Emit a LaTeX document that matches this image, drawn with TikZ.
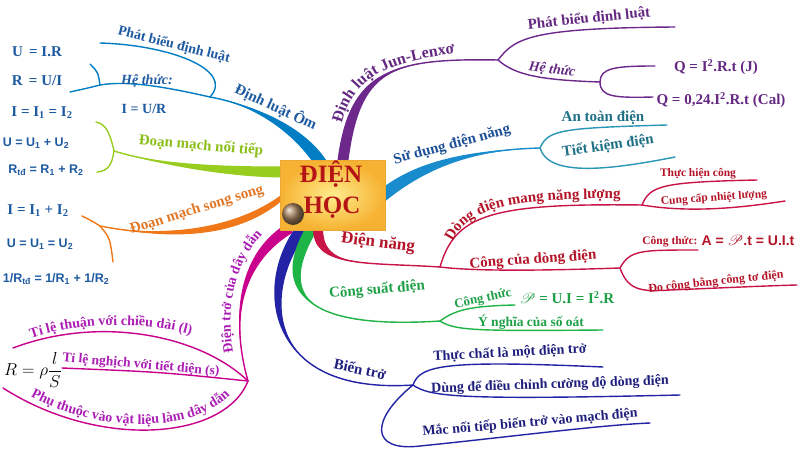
\documentclass[tikz,border=0pt]{standalone}
\usepackage{fontspec}
\setmainfont{Liberation Serif}
\setsansfont{Liberation Sans}
\usepackage{amsmath,mathrsfs}
\usetikzlibrary{calc,decorations.text}

\definecolor{ohm}{RGB}{0,125,195}
\definecolor{ohmtxt}{RGB}{30,90,160}
\definecolor{nt}{RGB}{150,205,30}
\definecolor{nttxt}{RGB}{140,190,25}
\definecolor{ss}{RGB}{240,120,25}
\definecolor{sstxt}{RGB}{225,120,40}
\definecolor{dd}{RGB}{200,0,140}
\definecolor{ddtxt}{RGB}{170,30,180}
\definecolor{bt}{RGB}{35,35,165}
\definecolor{bttxt}{RGB}{30,30,125}
\definecolor{cs}{RGB}{30,180,70}
\definecolor{cstxt}{RGB}{30,160,70}
\definecolor{dn}{RGB}{200,20,70}
\definecolor{dntxt}{RGB}{180,20,40}
\definecolor{sd}{RGB}{25,140,205}
\definecolor{sdsub}{RGB}{40,150,180}
\definecolor{sdtxt}{RGB}{30,80,150}
\definecolor{jl}{RGB}{110,40,140}
\definecolor{jltxt}{RGB}{100,40,130}
\definecolor{core}{RGB}{180,20,20}
\definecolor{boxin}{RGB}{255,236,140}
\definecolor{boxout}{RGB}{246,178,50}

\newcommand{\fmain}{\fontsize{15}{17}\selectfont\bfseries}
\newcommand{\fsub}{\fontsize{14}{16}\selectfont\bfseries}
\newcommand{\fsmall}{\fontsize{11.5}{13}\selectfont\bfseries}
% tapered branch: colour, start, control 1, control 2, end, half width
\newcommand{\taper}[6]{%
  \fill[#1] ($(#2)+#6$) .. controls ($(#3)+#6$) and (#4) .. (#5)
    .. controls (#4) and ($(#3)-#6$) .. ($(#2)-#6$) -- cycle;
  \draw[#1, line width=1.4pt] (#2) .. controls (#3) and (#4) .. (#5);}

\begin{document}
\begin{tikzpicture}[x=1pt,y=-1pt,
    thin line/.style={line width=1.4pt, line cap=round},
    lbl/.style={font=\fmain, inner sep=1pt},
    sub/.style={font=\fsub, inner sep=1pt},
    small/.style={font=\fsmall, inner sep=1pt},
    form/.style={font=\fontsize{15}{17}\selectfont\bfseries, text=ohmtxt, inner sep=1pt},
    sform/.style={font=\fontsize{12.5}{14}\selectfont\sffamily\bfseries, text=ohmtxt, inner sep=1pt},
    qf/.style={font=\fontsize{15}{17}\selectfont\bfseries, text=jltxt, inner sep=1pt},
    curved/.style={decorate, decoration={text along path, text align=center, text={#1}}}]

\useasboundingbox[fill=white] (0,0) rectangle (800,455);

% fork points
\coordinate (A) at (210,97);
\coordinate (B) at (100,85);
\coordinate (C) at (114,151);
\coordinate (D) at (100,226);
\coordinate (E) at (248,381);
\coordinate (F) at (413,385);
\coordinate (G) at (440,321);
\coordinate (H) at (440,267);
\coordinate (H1) at (642,205);
\coordinate (H2) at (620,268);
\coordinate (I) at (540,148);
\coordinate (J) at (498,60);
\coordinate (K) at (600,82);

% Dinh luat Om
\taper{ohm}{322,165}{300,130}{255,105}{A}{(5,-3.5)}
\draw[thin line, ohm] (A) .. controls (235,70) and (170,45) .. (100,43);
\draw[thin line, ohm] (A) .. controls (170,88) and (130,80) .. (B);
\draw[thin line, ohm] (B) .. controls (98,72) .. (90,64);
\draw[thin line, ohm] (B) .. controls (88,88) .. (70,92);
\node[lbl, ohmtxt, rotate=-25] (ohmlbl) at (276,107) {Định luật Ôm};
\node[sub, ohmtxt, rotate=-14] (ohmpb) at (174,45) {Phát biểu định luật};
\node[sub, ohmtxt, font=\fsub\itshape] (ohmht) at (147,81) {Hệ thức:};
\node[sub, ohmtxt] (ohmf) at (144,109) {I = U/R};
\node[form] (ohm1) at (37,52) {U \,= I.R};
\node[form] (ohm2) at (37,81) {R \,= U/I};

% Doan mach noi tiep
\taper{nt}{284,172}{230,172}{160,165}{C}{(0,5.5)}
\draw[thin line, nt] (C) .. controls (110,133) and (106,124) .. (96,122);
\draw[thin line, nt] (C) .. controls (112,165) and (108,171) .. (97,172);
\node[lbl, nttxt, rotate=-5] (ntlbl) at (201,146) {Đoạn mạch nối tiếp};
\node[form] (nt1) at (42,113) {I = I\textsubscript{1} = I\textsubscript{2}};
\node[sform] (nt2) at (36,143) {U = U\textsubscript{1} + U\textsubscript{2}};
\node[sform] (nt3) at (46,170) {R\textsubscript{tđ} = R\textsubscript{1} + R\textsubscript{2}};

% Doan mach song song
\taper{ss}{284,196}{230,240}{150,236}{D}{(3,-5.5)}
\draw[thin line, ss] (D) .. controls (92,221) .. (82,216);
\draw[thin line, ss] (D) .. controls (110,238) .. (113,262);
\node[lbl, sstxt, rotate=17] (sslbl) at (197,210) {Đoạn mạch song song};
\node[form] (ss1) at (38,211) {I = I\textsubscript{1} + I\textsubscript{2}};
\node[sform] (ss2) at (40,244) {U = U\textsubscript{1} = U\textsubscript{2}};
\node[sform] (ss3) at (56,279) {1/R\textsubscript{tđ} = 1/R\textsubscript{1} + 1/R\textsubscript{2}};

% Dien tro cua day dan
\taper{dd}{290,228}{245,255}{228,310}{E}{(3,4.5)}
\path[curved={|\fontsize{14}{16}\selectfont\bfseries\color{ddtxt}|Điện trở của dây dẫn}]
  (236,365) .. controls (222,310) and (235,255) .. (272,226);
\draw[thin line, dd] (E) .. controls (200,335) and (100,315) .. (13,348);
\draw[thin line, dd] (E) .. controls (160,372) .. (62,368);
\draw[thin line, dd] (E) .. controls (225,440) and (100,450) .. (3,388);
\path[curved={|\fsub\color{ddtxt}|Tỉ lệ thuận với chiều dài (l)}]
  (22,342) .. controls (70,322) and (150,319) .. (200,338);
\path[curved={|\fsub\color{ddtxt}|Phụ thuộc vào vật liệu làm dây dẫn}]
  (16,388) .. controls (100,442) and (215,432) .. (240,382);
\node[font=\fontsize{13.5}{15}\selectfont\bfseries, inner sep=1pt, ddtxt, rotate=-5] (dd2) at (141,365) {Tỉ lệ nghịch với tiết diện (s)};
\node[font=\fontsize{19}{21}\selectfont, inner sep=0pt] (ddf) at (33,370) {$R=\rho\dfrac{l}{S}$};

% Bien tro
\taper{bt}{303,228}{258,285}{262,395}{F}{(5,3.5)}
\draw[thin line, bt] (F) .. controls (420,365) and (445,360) .. (603,367);
\draw[thin line, bt] (F) .. controls (430,397) and (460,400) .. (680,395);
\draw[thin line, bt] (F) .. controls (370,420) and (370,452) .. (420,446)
  .. controls (500,438) and (600,425) .. (650,423);
\node[lbl, bttxt, rotate=-12] (btlbl) at (360,369) {Biến trở};
\node[sub, bttxt, rotate=3] (bt1) at (510,353) {Thực chất là một điện trở};
\node[sub, bttxt, rotate=2] (bt2) at (550,385) {Dùng để điều chỉnh cường độ dòng điện};
\node[sub, bttxt, rotate=5] (bt3) at (530,423) {Mắc nối tiếp biến trở vào mạch điện};

% Cong suat dien
\taper{cs}{312,228}{275,290}{300,330}{G}{(5,2.5)}
\draw[thin line, cs] (G) .. controls (455,310) and (470,306) .. (515,305);
\draw[thin line, cs] (G) .. controls (455,331) and (480,331) .. (603,330);
\node[lbl, cstxt, rotate=5] (cslbl) at (377,290) {Công suất điện};
\node[font=\fontsize{13}{15}\selectfont\bfseries, inner sep=1pt, cstxt, rotate=12] (cs1) at (483,299) {Công thức};
\node[form, cstxt] (csf) at (567,298) {$\mathscr{P}$ = U.I = I\textsuperscript{2}.R};
\node[font=\fontsize{13.5}{15}\selectfont\bfseries, inner sep=1pt, cstxt] (cs2) at (531,322) {Ý nghĩa của số oát};

% Dien nang
\taper{dn}{318,228}{318,268}{360,262}{H}{(5,0)}
\draw[thin line, dn] (H) .. controls (455,215) and (490,203) .. (H1);
\draw[thin line, dn] (H) .. controls (480,272) and (560,270) .. (H2);
\node[lbl, dntxt, font=\fontsize{17}{19}\selectfont\bfseries, rotate=-7] (dnlbl) at (378,243) {Điện năng};
\path[curved={|\fmain\color{dntxt}|Dòng điện mang năng lượng}]
  (447,256) .. controls (460,210) and (495,197) .. (636,199);
\node[lbl, dntxt, rotate=4] (dn2) at (533,260) {Công của dòng điện};
\draw[thin line, dn] (H1) .. controls (650,186) and (660,182) .. (757,180);
\draw[thin line, dn] (H1) .. controls (690,213) and (740,208) .. (785,201);
\node[small, dntxt] (dn11) at (698,174) {Thực hiện công};
\node[small, dntxt, rotate=4] (dn12) at (714,198) {Cung cấp nhiệt lượng};
\draw[thin line, dn] (H2) .. controls (630,250) and (640,250) .. (698,250);
\draw[thin line, dn] (H2) .. controls (628,290) and (640,292) .. (670,290)
  .. controls (720,288) and (760,286) .. (797,285);
\node[small, dntxt] (dn21) at (670,242) {Công thức:};
\node[sform, dntxt, font=\fontsize{14}{16}\selectfont\sffamily\bfseries] (dn2f) at (748,241) {A = $\mathscr{P}$.t = U.I.t};
\node[small, dntxt, font=\fontsize{12}{14}\selectfont\bfseries, rotate=6] (dn22) at (716,282) {Đo công bằng công tơ điện};

% Su dung dien nang
\taper{sd}{382,196}{420,165}{470,150}{I}{(3.5,5)}
\draw[thin line, sdsub] (I) .. controls (548,130) and (560,128) .. (667,125);
\draw[thin line, sdsub] (I) .. controls (548,175) and (600,172) .. (675,157);
\node[lbl, sdtxt, rotate=15] (sdlbl) at (452,145) {Sử dụng điện năng};
\node[sub, font=\fontsize{15}{17}\selectfont\bfseries, sdsub!75!black] (sd1) at (603,118) {An toàn điện};
\node[sub, font=\fontsize{15}{17}\selectfont\bfseries, sdsub!75!black, rotate=8] (sd2) at (608,146) {Tiết kiệm điện};

% Dinh luat Jun-Lenxo
\taper{jl}{343,160}{355,70}{390,58}{J}{(5.5,0)}
\path[curved={|\fontsize{16}{18}\selectfont\bfseries\color{jltxt}|Định luật Jun-Lenxơ}]
  (338,142) .. controls (346,85) and (372,60) .. (474,52);
\draw[thin line, jl] (J) .. controls (515,38) and (530,28) .. (675,27);
\draw[thin line, jl] (J) .. controls (515,75) and (540,80) .. (K);
\draw[thin line, jl] (K) .. controls (600,68) and (615,66) .. (655,66);
\draw[thin line, jl] (K) .. controls (600,97) and (615,98) .. (653,97);
\node[sub, font=\fontsize{15}{17}\selectfont\bfseries, jltxt, rotate=6] (jl1) at (589,19) {Phát biểu định luật};
\node[sub, jltxt, font=\fsub\itshape, rotate=-8] (jl2) at (552,70) {Hệ thức};
\node[qf] (jl3) at (716,67) {Q = I\textsuperscript{2}.R.t (J)};
\node[qf] (jl4) at (721,100) {Q = 0,24.I\textsuperscript{2}.R.t (Cal)};

% centre
\shade[inner color=boxin, outer color=boxout] (280,160) rectangle (385,230);
\draw[boxout!80!brown, line width=0.5pt] (280,160) rectangle (385,230);
\shade[ball color=brown!55!gray] (293,214) circle (11);
\node[font=\fontsize{25}{27}\selectfont\bfseries, text=core] (dien) at (331,174) {ĐIỆN};
\node[font=\fontsize{25}{27}\selectfont\bfseries, text=core] (hoc) at (332,208) {HỌC};
\end{tikzpicture}
\end{document}
